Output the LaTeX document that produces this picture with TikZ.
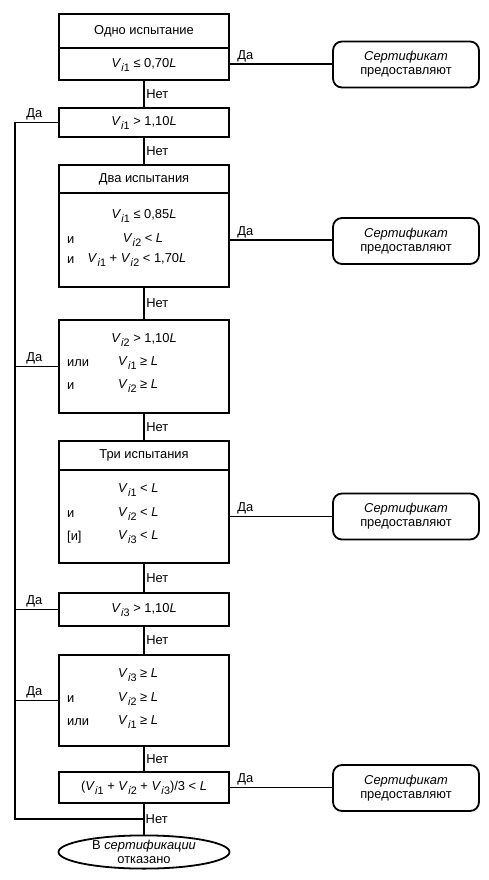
\documentclass[tikz,border=0pt]{standalone}
\usepackage{fontspec}
\setmainfont{Liberation Sans}
\usetikzlibrary{shapes.geometric}
\newcommand{\Vs}[1]{\textit{V}\kern0.2pt\raisebox{-0.32em}{\fontsize{10.8}{10.8}\selectfont\textit{i}#1}}
\newcommand{\Li}{\textit{L}}
\begin{document}
\begin{tikzpicture}[x=1pt,y=-1pt,
  every node/.style={font=\fontsize{12.9}{14.5}\selectfont},
  box/.style={draw,line width=1.8pt,minimum width=170pt,inner sep=0pt},
  cert/.style={draw,line width=1.8pt,rounded corners=9pt,minimum width=146pt,minimum height=46pt,align=center,inner sep=0pt,font=\fontsize{12.9}{14}\selectfont},
  ell/.style={draw,line width=1.8pt,ellipse,minimum width=171pt,minimum height=31pt,align=center,inner sep=0pt,font=\fontsize{12.9}{14}\selectfont},
  conn/.style={line width=1.8pt},
  lbl/.style={inner sep=1.5pt},
  txt/.style={inner sep=0pt}]
\useasboundingbox (0,0) rectangle (488,880);
% main boxes
\node[box,minimum height=34pt] (h1) at (144,31) {Одно испытание};
\node[box,minimum height=32pt] (c1) at (144,64) {};
\node[box,minimum height=29pt] (b2) at (144,122.5) {};
\node[box,minimum height=28pt] (h3) at (144,179) {Два испытания};
\node[box,minimum height=94pt] (c3) at (144,240) {};
\node[box,minimum height=93pt] (b4) at (144,366.5) {};
\node[box,minimum height=29pt] (h5) at (144,455.5) {Три испытания};
\node[box,minimum height=93pt] (c5) at (144,516.5) {};
\node[box,minimum height=33pt] (b6) at (144,609.5) {};
\node[box,minimum height=91pt] (b7) at (144,700.5) {};
\node[box,minimum height=31pt] (b8) at (144,787.5) {};
\node[ell] (e) at (144,852) {В \textit{сертификации}\\отказано};
% certificate boxes
\node[cert] (r1) at (406,64.5) {\textit{Сертификат}\\предоставляют};
\node[cert] (r3) at (406,241) {\textit{Сертификат}\\предоставляют};
\node[cert] (r5) at (406,516.5) {\textit{Сертификат}\\предоставляют};
\node[cert] (r8) at (406,788) {\textit{Сертификат}\\предоставляют};
% box texts
\node[txt] (t1) at (144,65) {\Vs1 ≤ 0,70\Li};
\node[txt] (t2) at (144,123) {\Vs1 > 1,10\Li};
\node[txt] (t3a) at (144,216) {\Vs1 ≤ 0,85\Li};
\node[txt,anchor=west] (t3bl) at (67,240) {и};
\node[txt] (t3b) at (143,240) {\Vs2 < \Li};
\node[txt,anchor=west] (t3cl) at (67,260) {и};
\node[txt] (t3c) at (137,260) {\Vs1 + \Vs2 < 1,70\Li};
\node[txt] (t4a) at (144,340) {\Vs2 > 1,10\Li};
\node[txt,anchor=west] (t4bl) at (67,363) {или};
\node[txt,anchor=west] (t4b) at (118,363) {\Vs1 ≥ \Li};
\node[txt,anchor=west] (t4cl) at (67,386) {и};
\node[txt,anchor=west] (t4c) at (118,386) {\Vs2 ≥ \Li};
\node[txt,anchor=west] (t5a) at (118,490) {\Vs1 < \Li};
\node[txt,anchor=west] (t5bl) at (67,514) {и};
\node[txt,anchor=west] (t5b) at (118,514) {\Vs2 < \Li};
\node[txt,anchor=west] (t5cl) at (67,537) {[и]};
\node[txt,anchor=west] (t5c) at (118,537) {\Vs3 < \Li};
\node[txt] (t6) at (144,610) {\Vs3 > 1,10\Li};
\node[txt,anchor=west] (t7a) at (118,675) {\Vs3 ≥ \Li};
\node[txt,anchor=west] (t7bl) at (67,699) {и};
\node[txt,anchor=west] (t7b) at (118,699) {\Vs2 ≥ \Li};
\node[txt,anchor=west] (t7cl) at (67,722) {или};
\node[txt,anchor=west] (t7c) at (118,722) {\Vs1 ≥ \Li};
\node[txt] (t8) at (144,788) {(\Vs1 + \Vs2 + \Vs3)/3 < \Li};
% coordinates of left return line
\coordinate (lt) at (15,122.5);
\coordinate (lb) at (15,819);
\coordinate (jn) at (144,819);
% down connectors (Нет)
\draw[conn] (c1.south) -- node[right,lbl] (n1) {Нет} (b2.north);
\draw[conn] (b2.south) -- node[right,lbl] (n2) {Нет} (h3.north);
\draw[conn] (c3.south) -- node[right,lbl] (n3) {Нет} (b4.north);
\draw[conn] (b4.south) -- node[right,lbl] (n4) {Нет} (h5.north);
\draw[conn] (c5.south) -- node[right,lbl] (n5) {Нет} (b6.north);
\draw[conn] (b6.south) -- node[right,lbl] (n6) {Нет} (b7.north);
\draw[conn] (b7.south) -- node[right,lbl] (n7) {Нет} (b8.north);
\draw[conn] (b8.south) -- (e.north);
\node[right,lbl] (n8) at (jn) {Нет};
% right connectors (Да)
\draw[conn] (c1.east) -- (c1.east -| r1.west) node[pos=0,anchor=south west,lbl,xshift=5pt] (d1) {Да};
\draw[conn] (c3.east) -- (c3.east -| r3.west) node[pos=0,anchor=south west,lbl,xshift=5pt] (d3) {Да};
\draw[conn] (c5.east) -- (c5.east -| r5.west) node[pos=0,anchor=south west,lbl,xshift=5pt] (d5) {Да};
\draw[conn] (b8.east) -- (b8.east -| r8.west) node[pos=0,anchor=south west,lbl,xshift=5pt] (d8) {Да};
% left connectors (Да)
\draw[conn] (b2.west) -- (lt) node[pos=1,anchor=south west,lbl,xshift=9pt] (l2) {Да};
\draw[conn] (b4.west) -- (b4.west -| lt) node[pos=1,anchor=south west,lbl,xshift=9pt] (l4) {Да};
\draw[conn] (b6.west) -- (b6.west -| lt) node[pos=1,anchor=south west,lbl,xshift=9pt] (l6) {Да};
\draw[conn] (b7.west) -- (b7.west -| lt) node[pos=1,anchor=south west,lbl,xshift=9pt] (l7) {Да};
\draw[conn,line cap=rect] (lt) -- (lb) -- (jn);
\end{tikzpicture}
\end{document}
